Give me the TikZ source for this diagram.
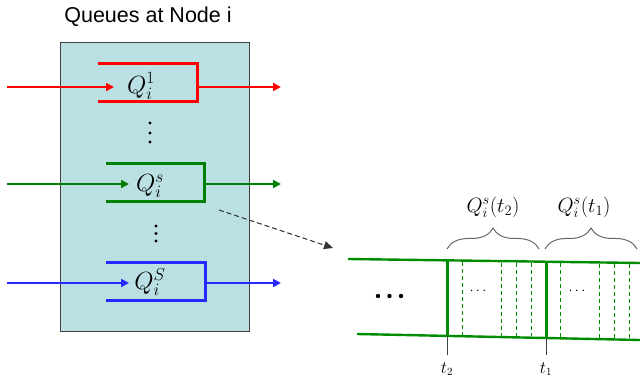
\documentclass[tikz,border=0pt]{standalone}
\usepackage{fontspec}
\setmainfont{Liberation Sans}
\usetikzlibrary{arrows.meta,decorations.pathreplacing}
\definecolor{boxfill}{RGB}{187,224,228}
\definecolor{qred}{RGB}{255,0,0}
\definecolor{qgreen}{RGB}{0,128,0}
\definecolor{qblue}{RGB}{40,40,255}
\definecolor{qgreen2}{RGB}{0,140,0}
\tikzset{
  queue/.style={line width=3pt},
  flow/.style={line width=2.6pt,-{Triangle[length=8pt,width=8pt]}},
  qlabel/.style={inner sep=0pt,font=\fontsize{23}{26}\selectfont},
  band/.style={qgreen2,line width=2.4pt},
  sep/.style={qgreen2,line width=3pt},
  slot/.style={qgreen2,line width=1pt,dash pattern=on 4pt off 3pt},
  tick/.style={black!75,line width=0.9pt},
  brc/.style={gray!80!black,line width=1pt,decorate,decoration={brace,amplitude=21pt}},
  dot/.style={fill=black},
}
\begin{document}
\begin{tikzpicture}[x=1pt,y=-1pt]
\useasboundingbox (0,0) rectangle (640,379);
% title and box
\node[font=\fontsize{21.5}{24}\selectfont] (title) at (148,17) {Queues at Node i};
\node[draw=black!75,line width=1pt,fill=boxfill,minimum width=189pt,minimum height=289pt,inner sep=0pt] (box) at (155,187) {};
% red queue
\draw[queue,qred] (98,64) -- (197,64) -- (197,102) -- (98,102);
\coordinate (rin) at (7,87); \coordinate (rend) at (114,87);
\coordinate (rq) at (197,87); \coordinate (rout) at (281,87);
\draw[flow,qred] (rin) -- (rend);
\draw[flow,qred] (rq) -- (rout);
\node[qlabel] (q1) at (141,86) {$Q_i^1$};
\foreach \y in {123,133,142}{\fill[dot] (150,\y) circle (1.7pt);}
% green queue
\draw[queue,qgreen] (106,164) -- (204,164) -- (204,202) -- (106,202);
\coordinate (gin) at (7,184); \coordinate (gend) at (129,184);
\coordinate (gq) at (204,184); \coordinate (gout) at (281,184);
\draw[flow,qgreen] (gin) -- (gend);
\draw[flow,qgreen] (gq) -- (gout);
\node[qlabel] (qs) at (150,186) {$Q_i^s$};
\foreach \y in {226,233.5,241}{\fill[dot] (156,\y) circle (1.6pt);}
% blue queue
\draw[queue,qblue] (106,263) -- (205,263) -- (205,301) -- (106,301);
\coordinate (bin) at (7,283); \coordinate (bend) at (129,283);
\coordinate (bq) at (205,283); \coordinate (bout) at (281,283);
\draw[flow,qblue] (bin) -- (bend);
\draw[flow,qblue] (bq) -- (bout);
\node[qlabel] (qS) at (150,282) {$Q_i^S$};
% zoom arrow
\coordinate (zs) at (219,210); \coordinate (ze) at (333,248);
\draw[black!80,line width=1pt,dash pattern=on 5pt off 3pt,-{Triangle[length=9pt,width=8pt]}] (zs) -- (ze);
% band
\coordinate (tl) at (348,259); \coordinate (tr) at (640,263);
\coordinate (bl) at (357,334); \coordinate (br) at (640,340);
\draw[band] (tl) -- (tr);
\draw[band] (bl) -- (br);
\coordinate (s2t) at (447,260.4); \coordinate (s2b) at (447,336);
\coordinate (s1t) at (546,261.7); \coordinate (s1b) at (546,338);
\draw[sep] (s2t) -- (s2b);
\draw[sep] (s1t) -- (s1b);
\foreach \x in {462,501,516,531,560,599,614,629}{
  \draw[slot] (\x,{259+(\x-348)/292*4+1.5}) -- (\x,{334+(\x-357)/283*6-1.5});
}
\coordinate (t2e) at (447,355); \coordinate (t1e) at (546,355);
\draw[tick] (s2b) -- (t2e);
\draw[tick] (s1b) -- (t1e);
\node[inner sep=0pt,font=\fontsize{16}{18}\selectfont] (t2) at (447,369) {$t_2$};
\node[inner sep=0pt,font=\fontsize{16}{18}\selectfont] (t1) at (546,369) {$t_1$};
\node[inner sep=0pt,font=\fontsize{14}{16}\selectfont] (d2) at (478,291) {$\cdots$};
\node[inner sep=0pt,font=\fontsize{14}{16}\selectfont] (d1) at (577,291) {$\cdots$};
\foreach \x in {378,389.5,401}{\fill[dot] (\x,296) circle (2.2pt);}
% braces
\coordinate (b2l) at (447,249); \coordinate (b2r) at (539,249);
\coordinate (b1l) at (545,249); \coordinate (b1r) at (637,249);
\draw[brc] (b2l) -- (b2r);
\draw[brc] (b1l) -- (b1r);
\node[inner sep=0pt,font=\fontsize{20}{23}\selectfont] (lq2) at (493,207) {$Q_i^s(t_2)$};
\node[inner sep=0pt,font=\fontsize{20}{23}\selectfont] (lq1) at (584,207) {$Q_i^s(t_1)$};
\end{tikzpicture}
\end{document}
